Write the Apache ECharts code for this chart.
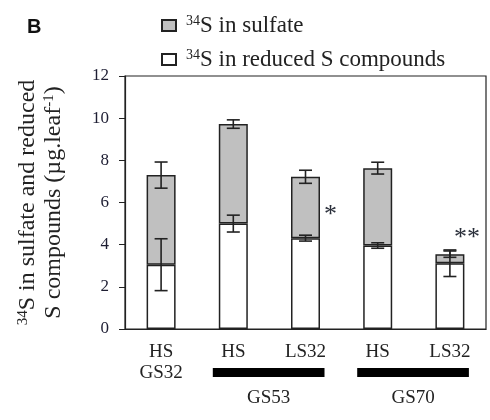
<!DOCTYPE html>
<html>
<head>
<meta charset="utf-8">
<script src="https://cdn.jsdelivr.net/npm/echarts@6.0.0/dist/echarts.min.js"></script>
<style>
html, body { margin: 0; padding: 0; background: #fff; }
#chart { width: 490px; height: 420px; }
</style>
</head>
<body>
<div id="chart"></div>
<script>
// values (µg.leaf-1)
const categories = ['HS\nGS32', 'HS', 'LS32', 'HS', 'LS32']
const reduced = [3.05, 5.0, 4.31, 3.96, 3.12]
const sulfate = [4.25, 4.72, 2.91, 3.67, 0.43]
const reducedErr = [1.23, 0.4, 0.14, 0.13, 0.63]
const totalErr = [0.62, 0.2, 0.31, 0.28, 0.15]
const signif = ['', '', '*', '', '**']
const groups = [
  { name: 'GS53', from: 1, to: 2 },
  { name: 'GS70', from: 3, to: 4 }
]

const serif = '"Liberation Serif", "Times New Roman", serif'
const ink = '#222'

let myChart = echarts.init(document.getElementById('chart'))

function errorData (centers, errs) {
  return centers.map((c, i) => [i, c, errs[i]])
}

function renderError (params, api) {
  let x = api.value(0)
  let c = api.value(1)
  let e = api.value(2)
  let top = api.coord([x, c + e])
  let bot = api.coord([x, c - e])
  let half = 6.5
  let style = { stroke: ink, lineWidth: 1.6 }
  return {
    type: 'group',
    children: [
      { type: 'line', shape: { x1: top[0], y1: top[1], x2: bot[0], y2: bot[1] }, style: style },
      { type: 'line', shape: { x1: top[0] - half, y1: top[1], x2: top[0] + half, y2: top[1] }, style: style },
      { type: 'line', shape: { x1: bot[0] - half, y1: bot[1], x2: bot[0] + half, y2: bot[1] }, style: style }
    ]
  }
}

let sulfateData = sulfate.map((v, i) => {
  if (!signif[i]) return v
  let last = i === categories.length - 1
  return {
    value: v,
    label: {
      show: true,
      formatter: signif[i],
      position: last ? 'top' : 'right',
      offset: last ? [17, 2] : [-1, 8],
      fontFamily: serif,
      fontSize: 26,
      color: '#2a2f3a'
    }
  }
})

myChart.setOption({
  animation: false,
  grid: {
    left: 125,
    right: 4,
    top: 76,
    bottom: 91,
    show: true,
    borderColor: ink,
    borderWidth: 1.2
  },
  legend: {
    orient: 'vertical',
    left: 156,
    top: 9,
    itemWidth: 14,
    itemHeight: 11,
    itemGap: 11,
    icon: 'rect',
    data: ['sulfate', 'reduced'],
    formatter: function (name) {
      return name === 'sulfate'
        ? '{sup|34}{t|S in sulfate}'
        : '{sup|34}{t|S in reduced S compounds}'
    },
    textStyle: {
      padding: [0, 0, 0, 5],
      rich: {
        sup: { fontFamily: serif, fontSize: 14, color: ink, padding: [0, 0, 9, 0] },
        t: { fontFamily: serif, fontSize: 23, color: ink, lineHeight: 25 }
      }
    }
  },
  xAxis: {
    type: 'category',
    data: categories,
    axisLine: { lineStyle: { color: ink, width: 1.2 } },
    axisTick: { show: false },
    axisLabel: {
      margin: 13,
      fontFamily: serif,
      fontSize: 19,
      lineHeight: 21,
      color: ink,
      interval: 0
    }
  },
  yAxis: {
    type: 'value',
    min: 0,
    max: 12,
    interval: 2,
    splitLine: { show: false },
    axisLine: { show: true, lineStyle: { color: ink, width: 1.2 } },
    axisTick: { show: true, length: 6, lineStyle: { color: ink } },
    axisLabel: { margin: 16, fontFamily: serif, fontSize: 17, color: '#1e1e33' },
    name: '{sup|34}{t|S in sulfate and reduced}\n{t|S compounds (µg.leaf}{sup|-1}{t|)}',
    nameLocation: 'middle',
    nameRotate: 90,
    nameGap: 58,
    nameTextStyle: {
      align: 'center',
      lineHeight: 26,
      rich: {
        sup: { fontFamily: serif, fontSize: 15, color: ink, padding: [0, 0, 9, 0] },
        t: { fontFamily: serif, fontSize: 24, color: ink, lineHeight: 26 }
      }
    }
  },
  series: [
    {
      name: 'reduced',
      type: 'bar',
      stack: 'total',
      barWidth: 29,
      data: reduced,
      itemStyle: { color: '#ffffff', borderColor: ink, borderWidth: 1.5 }
    },
    {
      name: 'sulfate',
      type: 'bar',
      stack: 'total',
      barWidth: 29,
      data: sulfateData,
      itemStyle: { color: '#c0c0c0', borderColor: ink, borderWidth: 1.5 }
    },
    {
      type: 'custom',
      z: 5,
      renderItem: renderError,
      data: errorData(reduced, reducedErr)
    },
    {
      type: 'custom',
      z: 5,
      renderItem: renderError,
      data: errorData(reduced.map((r, i) => r + sulfate[i]), totalErr)
    }
  ]
})

// panel letter, group bars and group labels under the category axis
let graphics = [
  {
    type: 'text',
    left: 27,
    top: 17,
    style: {
      text: 'B',
      font: 'bold 20px "Liberation Sans", Arial, sans-serif',
      fill: '#111'
    }
  }
]
groups.forEach(g => {
  let x1 = myChart.convertToPixel({ xAxisIndex: 0 }, g.from) - 20.5
  let x2 = myChart.convertToPixel({ xAxisIndex: 0 }, g.to) + 19
  graphics.push({
    type: 'rect',
    shape: { x: x1, y: 368, width: x2 - x1, height: 9 },
    style: { fill: '#000' }
  })
  graphics.push({
    type: 'text',
    x: (x1 + x2) / 2,
    y: 398,
    style: {
      text: g.name,
      font: '19px ' + serif,
      fill: ink,
      align: 'center',
      verticalAlign: 'middle'
    }
  })
})
myChart.setOption({ graphic: graphics })
</script>
</body>
</html>
